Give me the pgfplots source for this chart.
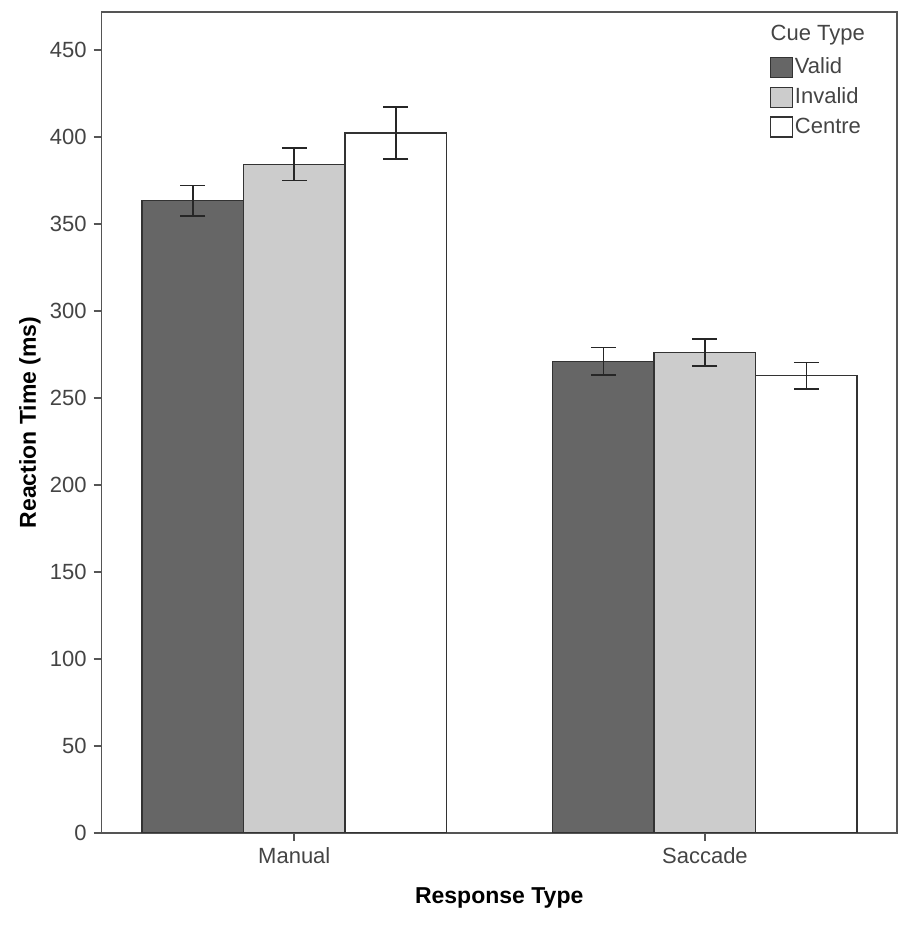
\documentclass[border=0pt]{standalone}
\usepackage{pgfplots}
\pgfplotsset{compat=1.18}
\usepackage{fontspec}
\setmainfont{Liberation Sans}
\definecolor{cvalid}{HTML}{666666}
\definecolor{cinvalid}{HTML}{CCCCCC}
\definecolor{cedge}{HTML}{333333}
\definecolor{cframe}{HTML}{555555}
\definecolor{ctick}{HTML}{444444}
\begin{document}
\begin{tikzpicture}
\begin{axis}[
  name=ax,
  scale only axis,
  width=397.5pt, height=410.4pt,
  xmin=-0.469, xmax=1.467,
  ymin=0, ymax=472,
  ybar=0pt, bar width=50.75pt,
  xtick={0,1}, xticklabels={Manual,Saccade},
  ytick={0,50,...,450},
  tick align=outside,
  major tick length=4pt,
  xtick pos=bottom, ytick pos=left,
  axis line style={cframe, line width=0.8pt},
  every tick/.style={cframe, line width=0.8pt},
  tick label style={font=\fontsize{11}{13}\selectfont, text=ctick},
  /pgf/number format/assume math mode=true,
  label style={font=\fontsize{11.5}{13}\selectfont\bfseries},
  xlabel={Response Type}, ylabel={Reaction Time (ms)},
  xlabel style={at={(0.5,0)}, anchor=north, yshift=-24pt},
  ylabel style={at={(0,0.5)}, anchor=south, yshift=27pt},
  legend image code/.code={\draw[#1] (0pt,-5pt) rectangle (11pt,5pt);},
  legend style={at={(0.832,0.951)}, anchor=north west, draw=none, fill=none,
    font=\fontsize{11}{13}\selectfont, text=ctick,
    row sep=4.25pt, column sep=0pt,
    nodes={inner xsep=1pt, inner ysep=0pt, text height=8.5pt, text depth=2pt}},
  legend cell align=left,
  error bars/error bar style={black!85, line width=0.8pt},
  error bars/error mark options={rotate=90, mark size=6.25pt, black!85, line width=0.8pt},
]
\addplot[fill=cvalid, draw=cedge, line width=0.7pt,
  error bars/.cd, y dir=both, y explicit]
  coordinates {(0,363.5) +- (0,8.8) (1,271.1) +- (0,8.0)};
\addlegendentry{Valid}
\addplot[fill=cinvalid, draw=cedge, line width=0.7pt,
  error bars/.cd, y dir=both, y explicit]
  coordinates {(0,384.4) +- (0,9.4) (1,276.2) +- (0,7.8)};
\addlegendentry{Invalid}
\addplot[fill=white, draw=cedge, line width=0.7pt,
  error bars/.cd, y dir=both, y explicit]
  coordinates {(0,402.5) +- (0,15.0) (1,262.8) +- (0,7.6)};
\addlegendentry{Centre}
\node[anchor=west, inner sep=0pt, font=\fontsize{11}{13}\selectfont, text=ctick]
  at (rel axis cs:0.841,0.972) {Cue Type};
\end{axis}
\pgfresetboundingbox
\path[use as bounding box] ([shift={(-50.85pt,-47.1pt)}]ax.south west) rectangle ([shift={(7.15pt,6pt)}]ax.north east);
\end{tikzpicture}
\end{document}
